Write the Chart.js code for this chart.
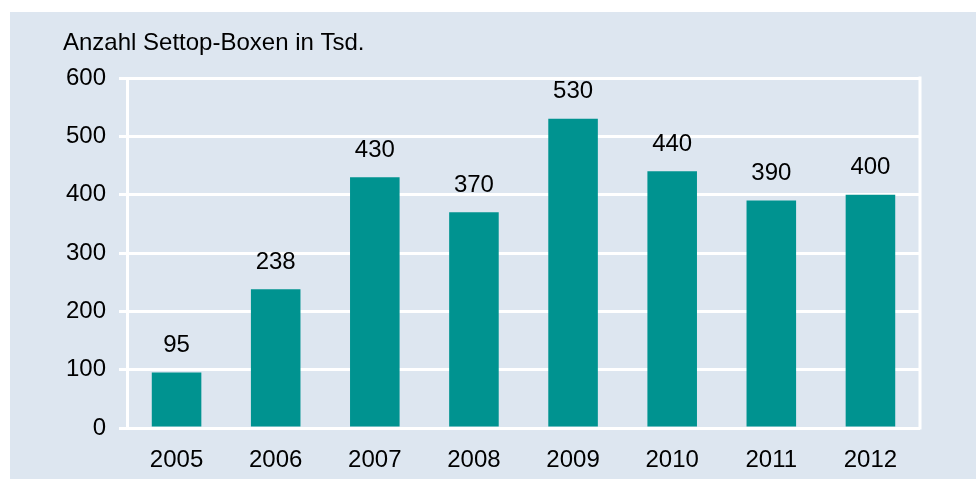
<!DOCTYPE html>
<html>
<head>
<meta charset="utf-8">
<script src="https://cdn.jsdelivr.net/npm/chart.js@4"></script>
<style>
  html, body { margin: 0; padding: 0; background: #ffffff; overflow: hidden; }
  #settopChart { display: block; }
</style>
</head>
<body>
<canvas id="settopChart" width="976" height="479"></canvas>
<script>
const years = ['2005', '2006', '2007', '2008', '2009', '2010', '2011', '2012'];
const boxes = [95, 238, 430, 370, 530, 440, 390, 400];
const yTicks = [0, 100, 200, 300, 400, 500, 600];
const axisTitle = 'Anzahl Settop-Boxen in Tsd.';

const FONT = "'Liberation Sans', Arial, sans-serif";
const PANEL = '#dde6f0';

// light panel behind everything, white frame line on the right, title and values
const decor = {
    id: 'decor',
    beforeDraw(chart) {
        const ctx = chart.ctx;
        ctx.save();
        ctx.fillStyle = PANEL;
        ctx.fillRect(10, 12, chart.width - 10, chart.height - 12);
        ctx.restore();
    },
    afterDraw(chart) {
        const ctx = chart.ctx;
        const area = chart.chartArea;
        ctx.save();
        ctx.strokeStyle = '#ffffff';
        ctx.lineWidth = 3;
        ctx.beginPath();
        ctx.moveTo(area.right, area.top - 1.5);
        ctx.lineTo(area.right, area.bottom + 1.5);
        ctx.stroke();

        ctx.fillStyle = '#000000';
        ctx.font = '24px ' + FONT;
        ctx.textAlign = 'left';
        ctx.textBaseline = 'middle';
        ctx.fillText(axisTitle, 63, 43);

        ctx.textAlign = 'center';
        chart.getDatasetMeta(0).data.forEach((bar, i) => {
            ctx.fillText(String(boxes[i]), bar.x, bar.y - 27);
        });
        ctx.restore();
    }
};

const ctx = document.getElementById('settopChart').getContext('2d');
const settopChart = new Chart(ctx, {
    type: 'bar',
    data: {
        labels: years,
        datasets: [{
            data: boxes,
            backgroundColor: '#009390',
            borderWidth: 0,
            barPercentage: 0.5,
            categoryPercentage: 1
        }]
    },
    options: {
        responsive: false,
        animation: false,
        devicePixelRatio: 1,
        layout: { padding: { top: 78, right: 56, left: 0, bottom: 0 } },
        plugins: { legend: { display: false }, tooltip: { enabled: false } },
        scales: {
            x: {
                grid: { display: false },
                border: { display: false },
                ticks: { color: '#000', font: { family: FONT, size: 24 }, padding: 10, autoSkip: false, maxRotation: 0 },
                afterFit(scale) { scale.height = 51; }
            },
            y: {
                min: 0,
                max: 600,
                afterBuildTicks(scale) { scale.ticks = yTicks.map(v => ({ value: v })); },
                grid: { color: '#ffffff', lineWidth: 3, tickLength: 8 },
                border: { color: '#ffffff', width: 3 },
                ticks: { color: '#000', font: { family: FONT, size: 24 }, padding: 13 },
                afterFit(scale) { scale.width = 127; }
            }
        }
    },
    plugins: [decor]
});
</script>
</body>
</html>
